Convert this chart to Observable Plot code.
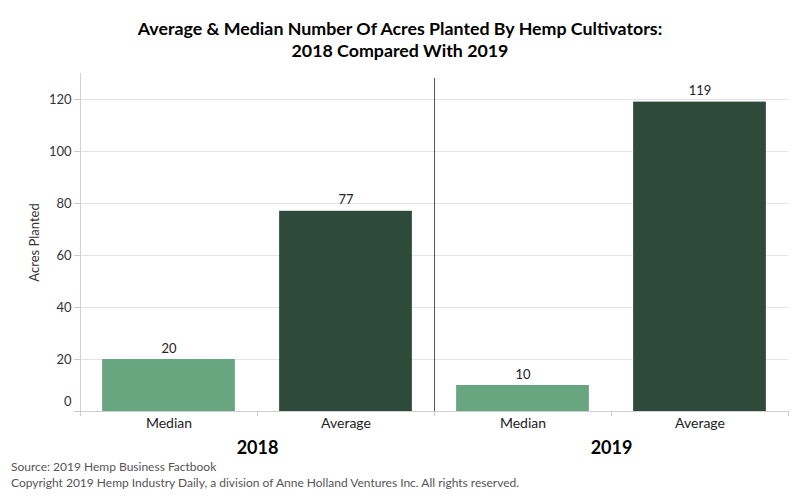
<!DOCTYPE html>
<html>
<head>
<meta charset="utf-8">
<script src="https://cdn.jsdelivr.net/npm/d3@7"></script>
<script src="https://cdn.jsdelivr.net/npm/@observablehq/plot@0.6"></script>
<style>
  body { margin: 0; background: #fff; font-family: Lato, "Open Sans", sans-serif; }
  #title { width: 800px; text-align: center; font-weight: bold; font-size: 17.8px; line-height: 22px; padding-top: 17px; color: #000; }
  #caption { padding-left: 11px; padding-top: 1px; font-size: 12px; line-height: 16px; color: #555; }
  svg { display: block; }
</style>
</head>
<body>
<div id="title">Average &amp; Median Number Of Acres Planted By Hemp Cultivators:<br>2018 Compared With 2019</div>
<div id="chart"></div>
<div id="caption">Source: 2019 Hemp Business Factbook<br>Copyright 2019 Hemp Industry Daily, a division of Anne Holland Ventures Inc. All rights reserved.</div>
<script>
const years = ["2018", "2019"];
const measures = ["Median", "Average"];
const values2018 = [20, 77];
const values2019 = [10, 119];
const yTicks = [0, 20, 40, 60, 80, 100, 120];
const colors = ["#67a67e", "#2e4a3a"];

const seriesByYear = {"2018": values2018, "2019": values2019};
const rows = [];
years.forEach((yr, gi) => {
  measures.forEach((m, mi) => {
    rows.push({year: yr, measure: m, value: seriesByYear[yr][mi], pos: gi * measures.length + mi});
  });
});
const n = rows.length;
const boundaries = d3.range(n + 1).map(i => i - 0.5);
const dividers = d3.range(1, years.length).map(g => g * measures.length - 0.5);
const groupCenters = years.map((y, gi) => gi * measures.length + (measures.length - 1) / 2);

const chart = Plot.plot({
  width: 800,
  height: 397,
  marginTop: 12,
  marginBottom: 47,
  marginLeft: 80,
  marginRight: 12,
  style: {fontFamily: "Lato, 'Open Sans', sans-serif", fontSize: "13px", color: "#333"},
  x: {domain: [-0.5, n - 0.5], axis: null},
  y: {domain: [0, 130], axis: null},
  color: {domain: measures, range: colors},
  marks: [
    Plot.gridY({ticks: yTicks.filter(t => t > 0), stroke: "#e4e4e4", strokeOpacity: 1}),
    Plot.ruleY([0], {stroke: "#d0d0d0"}),
    Plot.ruleX([-0.5], {stroke: "#d0d0d0"}),
    Plot.rectY(rows, {x1: d => d.pos - 0.375, x2: d => d.pos + 0.375, y: "value", fill: "measure"}),
    Plot.ruleX(dividers, {stroke: "#555", insetTop: 5}),
    Plot.text(rows, {x: "pos", y: "value", text: d => String(d.value), dy: -11, fontSize: 13, fill: "#222"}),
    Plot.axisY({ticks: yTicks.filter(t => t > 0), tickSize: 6, stroke: "#ccc", fill: "#333", fontSize: 13,
      label: "Acres Planted", labelAnchor: "center", labelOffset: 51, labelArrow: "none"}),
    Plot.axisY({ticks: [0], tickSize: 6, stroke: "#ccc", tickFormat: () => "", label: null}),
    Plot.axisY({ticks: [0], tickSize: 6, stroke: "none", fill: "#333", dy: -10, fontSize: 13, label: null}),
    Plot.axisX({ticks: boundaries, tickSize: 5, stroke: "#ccc", tickFormat: () => "", label: null}),
    Plot.axisX({ticks: rows.map(d => d.pos), tickSize: 0, tickPadding: 7, fontSize: 14, fill: "#222",
      tickFormat: p => rows.find(d => d.pos === p).measure, label: null}),
    Plot.axisX({ticks: groupCenters, tickSize: 0, tickPadding: 30, fontSize: 18, fontWeight: "bold", fill: "#000",
      tickFormat: c => years[groupCenters.indexOf(c)], label: null})
  ]
});
document.getElementById("chart").appendChild(chart);
</script>
</body>
</html>
